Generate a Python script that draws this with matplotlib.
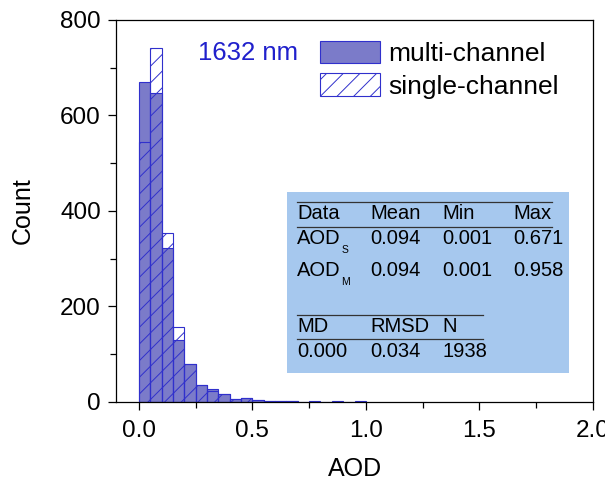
import numpy as np
import matplotlib
matplotlib.use("Agg")
import matplotlib.pyplot as plt
from matplotlib.patches import Rectangle

plt.rcParams['font.family'] = ['Liberation Sans', 'DejaVu Sans']
plt.rcParams['hatch.linewidth'] = 0.7

# histogram counts per 0.05 AOD bin, starting at 0
bin_width = 0.05
multi_counts = [670, 646, 323, 130, 79, 35, 26, 16, 5, 9, 3, 2, 2, 1, 0, 1, 0, 1, 0, 1]
single_counts = [544, 742, 354, 156, 79, 35, 22, 16, 5, 9, 3, 2, 2, 1]

# statistics table
table_header = ["Data", "Mean", "Min", "Max"]
table_rows = [["AOD", "0.094", "0.001", "0.671"],
              ["AOD", "0.094", "0.001", "0.958"]]
row_subs = ["S", "M"]
diff_header = ["MD", "RMSD", "N"]
diff_values = ["0.000", "0.034", "1938"]

fill_color = '#7b7bc9'
edge_color = '#3030cc'

fig = plt.figure(figsize=(6.05, 4.83), dpi=100)
ax = fig.add_axes([0.192, 0.168, 0.788, 0.791])

multi_left = np.arange(len(multi_counts)) * bin_width
single_left = np.arange(len(single_counts)) * bin_width

ax.bar(multi_left, multi_counts, width=bin_width, align='edge',
       color=fill_color, edgecolor=edge_color, linewidth=0.8,
       label='multi-channel')
ax.bar(single_left, single_counts, width=bin_width, align='edge',
       fill=False, hatch='//', edgecolor=edge_color, linewidth=0.8,
       label='single-channel')

ax.set_xlim(-0.1, 2.0)
ax.set_ylim(0, 800)
ax.set_xticks([0, 0.5, 1.0, 1.5, 2.0])
ax.set_xticks([0.25, 0.75, 1.25, 1.75], minor=True)
ax.set_yticks([0, 200, 400, 600, 800])
ax.set_yticks([100, 300, 500, 700], minor=True)
ax.set_xticklabels(['0.0', '0.5', '1.0', '1.5', '2.0'])
ax.tick_params(which='major', direction='out', length=6, width=0.9,
               labelsize=17.5, pad=5, top=False, right=False)
ax.tick_params(axis='x', which='major', pad=7)
ax.tick_params(which='minor', direction='out', length=4, width=0.9,
               top=False, right=False)
for s in ax.spines.values():
    s.set_linewidth(0.9)

ax.set_xlabel('AOD', fontsize=18)
ax.set_ylabel('Count', fontsize=18)
ax.xaxis.set_label_coords(0.5, -0.144)
ax.yaxis.set_label_coords(-0.170, 0.5)

ax.text(0.48, 730, '1632 nm', color='#2020cc', fontsize=18.5,
        ha='center', va='center')

ax.legend(loc='upper left', bbox_to_anchor=(0.428, 0.944), frameon=False,
          fontsize=19, handlelength=2.27, handleheight=0.91,
          labelspacing=0.27, handletextpad=0.31, borderpad=0,
          borderaxespad=0)

# statistics box
ax.add_patch(Rectangle((0.653, 61), 1.895 - 0.653, 440 - 61,
                       facecolor='#a6c8ee', edgecolor='none', zorder=3))

col_x = [0.697, 1.018, 1.336, 1.648]
fs = 14.5
ax.plot([0.697, 1.82], [419, 419], color='#333333', lw=0.9, zorder=4)
for x, t in zip(col_x, table_header):
    ax.text(x, 394, t, fontsize=fs, va='center', zorder=5)
ax.plot([0.697, 1.82], [367, 367], color='#333333', lw=0.9, zorder=4)
for y, row, sub in zip([343, 276], table_rows, row_subs):
    for x, t in zip(col_x, row):
        ax.text(x, y, t, fontsize=fs, va='center', zorder=5)
    ax.text(0.891, y - 24, sub, fontsize=7.5, va='center', zorder=5)

ax.plot([0.697, 1.516], [182, 182], color='#333333', lw=0.9, zorder=4)
for x, t in zip(col_x, diff_header):
    ax.text(x, 158, t, fontsize=fs, va='center', zorder=5)
ax.plot([0.697, 1.516], [132, 132], color='#333333', lw=0.9, zorder=4)
for x, t in zip(col_x, diff_values):
    ax.text(x, 105, t, fontsize=fs, va='center', zorder=5)

fig.savefig('out.png', dpi=100)
